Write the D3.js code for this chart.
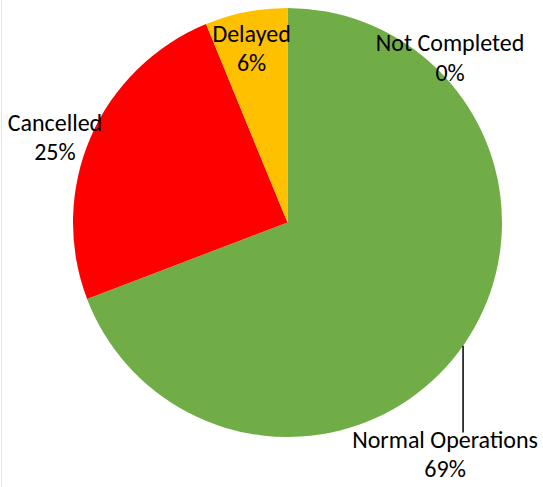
<!DOCTYPE html>
<html>
<head>
<meta charset="utf-8">
<script src="https://cdn.jsdelivr.net/npm/d3@7"></script>
<style>
  body { margin: 0; background: #fff; }
  svg text { font-family: Carlito, Calibri, "Open Sans", sans-serif; font-size: 24px; fill: #000; }
</style>
</head>
<body>
<div class="chart"></div>
<script>
const width = 543
const height = 487

// data, in Excel's drawing order (clockwise from 12 o'clock)
const categories = ["Normal Operations", "Cancelled", "Delayed", "Not Completed"]
const values = [69.2, 24.6, 6.2, 0]
const colors = ["#70AD47", "#FF0000", "#FFC000", "#5B9BD5"]

const cx = 287.5
const cy = 222.5
const radius = 214.5
const lineGap = 29.5

// where each label block is centred: angle (deg, clockwise from top) and radius factor
const labelLayout = {
    "Normal Operations": { angle: 146.7, k: 1.338, leader: true },
    "Cancelled": { angle: 288.3, k: 1.142 },
    "Delayed": { angle: 347.8, k: 0.792 },
    "Not Completed": { angle: 46.1, k: 1.052 }
}

const svg = d3.select(".chart").append("svg")
    .attr("width", width)
    .attr("height", height)

// faint frame edge on the left
svg.append("line")
    .attr("x1", 1.5).attr("x2", 1.5)
    .attr("y1", 0).attr("y2", height)
    .style("stroke", "#e3e7ee")
    .style("stroke-width", 1)

const data = categories.map((c, i) => ({ name: c, value: values[i], color: colors[i] }))

const pie = d3.pie().value(d => d.value).sort(null)
const arc = d3.arc().innerRadius(0).outerRadius(radius)

const g = svg.append("g").attr("transform", `translate(${cx},${cy})`)

g.selectAll("path")
    .data(pie(data).filter(d => d.value > 0))
    .enter()
    .append("path")
    .attr("d", arc)
    .attr("fill", d => d.data.color)

const total = d3.sum(values)

data.forEach(d => {
    const lay = labelLayout[d.name]
    const a = lay.angle * Math.PI / 180
    const r = radius * lay.k
    const lx = r * Math.sin(a)
    const ly = -r * Math.cos(a)

    const t = g.append("text").attr("text-anchor", "middle")
    t.append("tspan").attr("x", lx).attr("y", ly - lineGap / 2).text(d.name)
    t.append("tspan").attr("x", lx).attr("y", ly + lineGap / 2).text(Math.round(d.value / total * 100) + "%")

    if (lay.leader) {
        // vertical leader from the pie edge down to the label
        const lineX = lx + 18
        const edgeY = Math.sqrt(radius * radius - lineX * lineX)
        g.append("line")
            .attr("x1", lineX).attr("x2", lineX)
            .attr("y1", edgeY).attr("y2", ly - lineGap - 0.5)
            .style("stroke", "#000")
            .style("stroke-width", 1.5)
    }
})
</script>
</body>
</html>
